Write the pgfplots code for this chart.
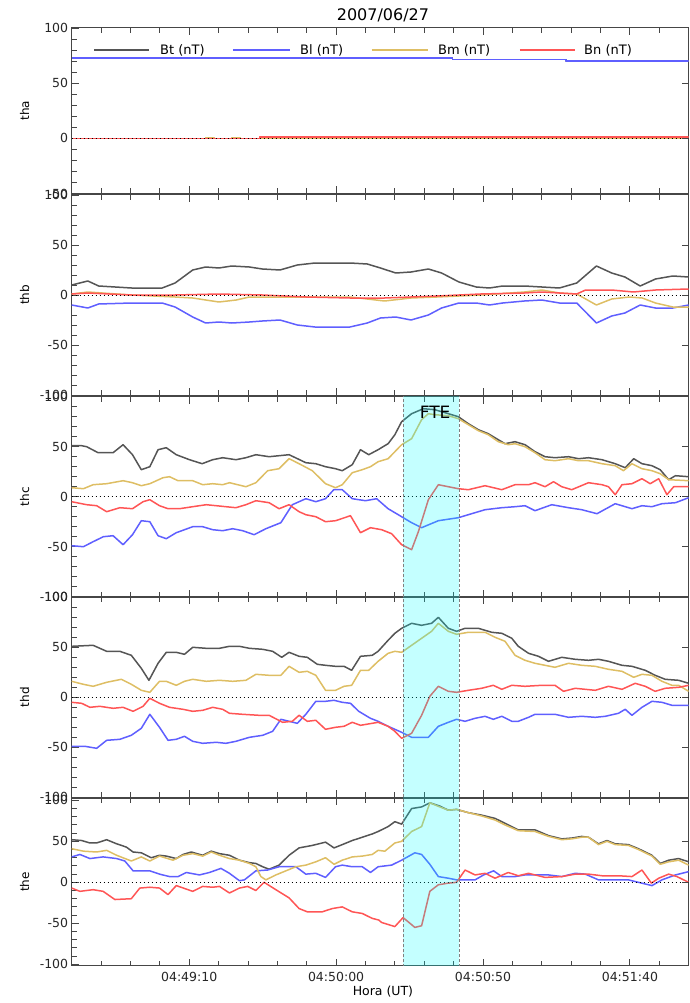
\documentclass[border=0pt]{standalone}
\usepackage{fontspec}
\setmainfont{DejaVu Sans}
\usepackage{pgfplots}
\pgfplotsset{compat=1.18}
\definecolor{cBt}{RGB}{85,85,85}
\definecolor{cBl}{RGB}{95,95,255}
\definecolor{cBm}{RGB}{222,190,100}
\definecolor{cBn}{RGB}{255,85,85}
\definecolor{frm}{RGB}{70,70,70}
\definecolor{band}{RGB}{0,255,255}
\tikzset{rt/.style={frm, line width=0.9pt}}
\pgfplotsset{
  panel/.style={
    scale only axis, width=617pt,
    xmin=30, xmax=240,
    xtick={70,120,170,220}, minor xtick={30,40,...,240},
    xticklabels={},
    ytick={-100,-50,0,50,100},
    minor ytick={-100,-90,...,100},
    tick align=inside, xtick pos=both, ytick pos=left,
    major tick length=7pt, minor tick length=5pt,
    every tick/.style={frm, line width=0.9pt},
    axis line style={frm, line width=1pt},
    tick label style={font=\fontsize{12.5}{14}\selectfont, text=black!85},
    /pgf/number format/assume math mode=true,
    every axis y label/.style={at={(axis description cs:-0.0762,0.5)}, rotate=90, anchor=center, font=\fontsize{12}{14}\selectfont},
    every axis plot/.append style={line width=1.5pt, line join=round},
    clip=true,
  },
  zero/.style={black, line width=1pt, dash pattern=on 1pt off 3pt},
  fte/.style={draw=none, fill=band, fill opacity=0.23},
  ftel/.style={gray, line width=0.8pt, dash pattern=on 3pt off 2pt},
}
\begin{document}
\begin{tikzpicture}
\path[use as bounding box] (0,0) rectangle (689pt,-1003pt);

% ---------------- panel 1: tha
\begin{axis}[panel, at={(71.67pt,-28pt)}, anchor=north west, height=165.5pt,
  ymin=-50, ymax=100, ytick={-50,0,50,100}, minor ytick={-50,-40,...,100},
  ylabel={tha},
  title={2007/06/27},
  title style={font=\fontsize{16}{18}\selectfont, at={(axis description cs:0.5045,1)}, anchor=center, yshift=7pt}]
\addplot[cBt] coordinates {(30,72.7) (159.6,72.7) (159.6,71.3) (198.2,71.3) (198.2,70.3) (240,70.3)};
\addplot[cBl] coordinates {(30,72.7) (159.6,72.7) (159.6,71.3) (198.2,71.3) (198.2,70.3) (240,70.3)};
\addplot[cBm] coordinates {(30,0) (75.6,0) (75.6,0.6) (78.6,0.6) (78.6,0) (84.5,0) (84.5,0.6) (87.5,0.6) (87.5,0) (240,0)};
\addplot[cBn] coordinates {(30,0) (94,0) (94,1.2) (240,1.2)};
\addplot[zero] coordinates {(30,0) (240,0)};
\draw[rt] (axis cs:240,50) -- ([xshift=-7pt]axis cs:240,50);
\draw[rt] (axis cs:240,0) -- ([xshift=-7pt]axis cs:240,0);
% legend
\draw[cBt, line width=1.5pt] (rel axis cs:0.0362,0.867) -- (rel axis cs:0.1253,0.867);
\node[anchor=west, font=\fontsize{13}{15}\selectfont, inner sep=0pt] at (rel axis cs:0.1431,0.867) {Bt (nT)};
\draw[cBl, line width=1.5pt] (rel axis cs:0.2614,0.867) -- (rel axis cs:0.3538,0.867);
\node[anchor=west, font=\fontsize{13}{15}\selectfont, inner sep=0pt] at (rel axis cs:0.370,0.867) {Bl (nT)};
\draw[cBm, line width=1.5pt] (rel axis cs:0.4863,0.867) -- (rel axis cs:0.578,0.867);
\node[anchor=west, font=\fontsize{13}{15}\selectfont, inner sep=0pt] at (rel axis cs:0.5937,0.867) {Bm (nT)};
\draw[cBn, line width=1.5pt] (rel axis cs:0.7266,0.867) -- (rel axis cs:0.8155,0.867);
\node[anchor=west, font=\fontsize{13}{15}\selectfont, inner sep=0pt] at (rel axis cs:0.8304,0.867) {Bn (nT)};
\end{axis}

% ---------------- panel 2: thb
\begin{axis}[panel, at={(71.67pt,-195pt)}, anchor=north west, height=200pt,
  ymin=-100, ymax=100, ylabel={thb}]
\addplot[cBt] coordinates {(30,10) (35.5,14) (39.2,9) (50.4,7) (60.8,7) (65.2,12) (71.2,25) (75.6,28) (80.1,27) (84.5,29) (90.5,28) (94.9,26) (100.9,25) (106.8,30) (112.8,32) (118.7,32) (124.7,32) (130.6,31) (135.1,27) (140.3,22) (145.5,23) (151.4,26) (155.9,22) (161.8,13) (167.7,8) (172.2,7) (176.7,9) (184.1,9) (190,8) (196,7) (201.9,12) (208.6,29) (213.8,22) (218.3,18) (223.5,9) (228.7,16) (234.6,19) (240,18)};
\addplot[cBl] coordinates {(30,-10) (35.5,-13) (39.2,-9) (50.4,-8) (60.8,-8) (65.2,-12) (71.2,-22) (75.6,-28) (80.1,-27) (84.5,-28) (90.5,-27) (94.9,-26) (100.9,-25) (106.8,-30) (112.8,-32) (118.7,-32) (124.7,-32) (130.6,-28) (135.1,-23) (140.3,-22) (145.5,-25) (151.4,-20) (155.9,-13) (161.8,-8) (167.7,-8) (172.2,-10) (176.7,-8) (184.1,-6) (190,-5) (196,-8) (201.9,-8) (208.6,-28) (213.8,-21) (218.3,-18) (223.5,-10) (228.7,-13) (234.6,-13) (240,-10)};
\addplot[cBm] coordinates {(30,1) (35.5,3) (50.4,0) (65.2,-2) (71.2,-3) (80.1,-7) (86,-5) (90.5,-2) (109.8,-2) (124.7,-2) (136.5,-6) (145.5,-3) (154.4,-2) (169.2,0) (184.1,3) (190,5) (196,2) (201.9,1) (208.6,-10) (213.8,-4) (219.8,-2) (224.2,-3) (228.7,-8) (234.6,-12) (240,-12)};
\addplot[cBn] coordinates {(30,1) (35.5,2) (50.4,0) (65.2,0) (80.1,1) (94.9,0) (109.8,-2) (124.7,-3) (136.5,-3) (154.4,-1) (169.2,1) (184.1,2) (190,3) (201.9,1) (204.9,5) (213.8,5) (221.2,3) (228.7,5) (240,6)};
\addplot[zero] coordinates {(30,0) (240,0)};
\draw[rt] (axis cs:240,50) -- ([xshift=-7pt]axis cs:240,50);
\draw[rt] (axis cs:240,0) -- ([xshift=-7pt]axis cs:240,0);
\draw[rt] (axis cs:240,-50) -- ([xshift=-7pt]axis cs:240,-50);
\end{axis}

% ---------------- panel 3: thc
\begin{axis}[panel, at={(71.67pt,-396.7pt)}, anchor=north west, height=200pt,
  ymin=-100, ymax=100, ylabel={thc}]
\addplot[cBt] coordinates {(30,51) (33.4,51) (35.1,50) (39,44) (44.1,44) (47.5,52) (50.7,42) (53.7,27) (56.6,30) (59.4,47) (62.2,49) (65.6,42) (70.1,37) (74.4,33) (78,37) (81.4,39) (85.9,37) (89.3,39) (92.7,42) (97.2,40) (100.6,41) (104,42) (109.7,34) (113.1,33) (116.4,30) (119.8,28) (122.1,26) (125.5,32) (128.3,47) (131.1,42) (134.3,47) (137.7,53) (140,62) (142.3,75) (145.7,83) (149.7,88) (153.6,87) (158.2,83) (161.6,80) (165,73) (168.4,67) (171.8,63) (175.2,57) (177.5,53) (180.9,55) (184.3,52) (187.7,45) (191.1,40) (194.5,39) (199.1,40) (202.5,38) (205.9,39) (210.5,37) (215,33) (218.4,29) (221.3,38) (224.1,33) (227.5,31) (230.3,27) (233.2,17) (235.5,21) (240,20)};
\addplot[cBl] coordinates {(30,-49) (34,-50) (37.3,-45) (40.8,-40) (44.1,-39) (47.5,-48) (50.7,-38) (53.7,-24) (56.6,-25) (59.4,-39) (62.2,-42) (65.6,-36) (71.2,-30) (74.6,-30) (78,-33) (81.4,-34) (84.8,-32) (88.2,-34) (92.1,-38) (96.1,-32) (101.2,-26) (105.1,-8) (109.7,-2) (113.1,-5) (116.4,-2) (119.2,7) (122.1,7) (125.5,-2) (130,-4) (133.8,-2) (137.7,-12) (142.3,-20) (145.7,-26) (149.1,-31) (154.8,-24) (161.6,-21) (165,-18) (170.7,-13) (176.4,-11) (180.9,-10) (184.3,-9) (187.7,-14) (193.4,-8) (199.1,-11) (203.6,-13) (208.8,-17) (215,-7) (220.7,-12) (224.1,-9) (227.5,-10) (230.9,-7) (235.5,-6) (240,-1)};
\addplot[cBm] coordinates {(30,9) (34,8) (37.3,12) (41.9,13) (47.5,16) (50.7,14) (53.7,11) (56.6,13) (61.1,19) (63.3,20) (66.2,16) (71.2,16) (74.6,12) (78,13) (81.4,12) (83.7,14) (89.3,10) (92.7,14) (96.7,26) (100.6,28) (104,38) (107.4,33) (111.9,26) (116.4,13) (119.8,9) (122.1,12) (125.5,24) (128.9,27) (131.7,30) (134.3,35) (137.7,38) (142.3,52) (145.7,58) (149.1,77) (151.4,83) (153.6,82) (158.2,81) (161.6,78) (165,72) (168.4,66) (171.8,62) (175.2,55) (178.6,52) (180.9,53) (184.3,50) (187.7,44) (191.1,37) (194.5,36) (199.1,38) (202.5,36) (205.9,36) (210.5,33) (215,31) (217.8,26) (220.7,33) (224.1,28) (227.5,26) (230.3,23) (233.2,17) (240,16)};
\addplot[cBn] coordinates {(30,-5) (35.1,-8) (38.5,-9) (41.9,-15) (46.4,-11) (50.7,-12) (54.3,-5) (56.6,-3) (59.9,-9) (62.8,-12) (66.7,-12) (71.2,-10) (75.8,-8) (79.2,-9) (82.5,-10) (85.9,-11) (89.3,-8) (92.7,-4) (97.2,-6) (100.6,-12) (104,-8) (107.4,-15) (109.7,-18) (113.1,-20) (116.4,-25) (119.8,-24) (124.9,-19) (128.3,-36) (131.7,-31) (135.5,-33) (138.9,-37) (142.3,-48) (145.7,-53) (148,-35) (151.4,-3) (154.8,12) (158.2,10) (161.6,8) (165,7) (170.7,11) (176.4,7) (180.9,12) (185.5,12) (187.7,14) (191.1,10) (194,15) (196.8,10) (200.2,7) (205.9,14) (210.5,12) (212.7,10) (215,2) (217.3,12) (220.7,13) (224.1,18) (226.9,13) (229.8,18) (232.6,2) (234.9,10) (240,10)};
\addplot[zero] coordinates {(30,0) (240,0)};
\addplot[fte] coordinates {(142.8,-110) (161.8,-110) (161.8,110) (142.8,110)} -- cycle;
\addplot[ftel] coordinates {(142.8,-110) (142.8,110)};
\addplot[ftel] coordinates {(161.8,-110) (161.8,110)};
\node[font=\fontsize{17}{19}\selectfont, text=black] at (axis cs:153.7,84.5) {FTE};
\draw[rt] (axis cs:240,50) -- ([xshift=-7pt]axis cs:240,50);
\draw[rt] (axis cs:240,0) -- ([xshift=-7pt]axis cs:240,0);
\draw[rt] (axis cs:240,-50) -- ([xshift=-7pt]axis cs:240,-50);
\end{axis}

% ---------------- panel 4: thd
\begin{axis}[panel, at={(71.67pt,-597.3pt)}, anchor=north west, height=200pt,
  ymin=-100, ymax=100, ylabel={thd}]
\addplot[cBt] coordinates {(30,51) (37.3,52) (41.9,46) (46.4,46) (50.3,42) (53.7,29) (56.3,17) (59.4,34) (62.2,45) (65.6,45) (68.4,43) (71.2,50) (75.8,49) (80.3,49) (83.7,51) (87.1,51) (90.5,49) (95,48) (98.4,46) (101.5,40) (104,45) (107.4,41) (110.2,40) (113.6,33) (116.4,32) (119.8,31) (122.7,31) (125.3,27) (128.3,41) (132.3,42) (134.3,46) (137.7,57) (140,64) (142.3,69) (145.7,74) (149.1,72) (152.5,74) (154.8,80) (158.2,69) (161,66) (163.9,69) (168.4,69) (173,65) (176.4,64) (179.8,59) (182,51) (185.5,44) (188.9,41) (192.3,36) (196.8,40) (201.4,38) (205.9,37) (209.3,38) (212.7,36) (217.3,32) (220.7,31) (225.2,27) (228.6,22) (232,18) (236.6,17) (240,14)};
\addplot[cBl] coordinates {(30,-49) (34.5,-49) (38.5,-51) (41.9,-43) (46.4,-42) (50.3,-38) (53.7,-31) (56.6,-17) (59.9,-30) (62.8,-43) (65.6,-42) (68.4,-39) (71.2,-44) (74.6,-46) (79.2,-45) (82.5,-46) (85.9,-44) (90.5,-40) (95,-38) (98.4,-34) (101.2,-22) (104,-24) (106.8,-26) (109.7,-17) (113.1,-4) (116.4,-4) (119.3,-3) (122.1,-5) (124.9,-6) (127.7,-14) (131.7,-21) (134.3,-24) (137.7,-29) (142.3,-35) (145.7,-40) (151.4,-40) (154.8,-29) (158.2,-25) (161,-22) (163.9,-24) (167.3,-21) (170.7,-19) (173.5,-22) (176.4,-19) (179.8,-24) (182,-24) (185.5,-20) (187.7,-17) (194.5,-17) (199.1,-20) (203.6,-19) (208.2,-20) (211.6,-19) (216.1,-16) (218.4,-12) (220.7,-18) (224.1,-10) (227.5,-4) (230.9,-5) (234.3,-8) (240,-8)};
\addplot[cBm] coordinates {(30,16) (34,13) (37.3,11) (41.9,15) (46.9,18) (50.3,13) (53.7,7) (56.6,5) (59.9,16) (62.2,16) (65.6,12) (68.4,16) (71.2,18) (75.8,16) (80.3,17) (84.8,16) (89.3,17) (92.7,23) (97.2,22) (101.2,22) (104,31) (107.4,25) (110.2,26) (113.1,22) (116.4,7) (119.8,7) (122.7,11) (125.3,12) (128.3,27) (131.1,27) (134.3,36) (137.7,44) (140,46) (142.3,45) (145.7,52) (149.1,59) (152.5,66) (154.8,74) (158.2,66) (161,63) (165,65) (170.7,65) (174.1,60) (177.5,56) (180.9,42) (184.3,37) (187.7,34) (191.1,32) (194.5,30) (199.1,34) (203.6,32) (208.2,31) (212.7,28) (217.3,26) (221.3,20) (224.1,23) (227.5,22) (230.9,16) (234.3,12) (236.6,12) (240,6)};
\addplot[cBn] coordinates {(30,-5) (33.4,-6) (36.2,-10) (39.6,-9) (44.1,-11) (47.5,-10) (50.9,-14) (54.3,-9) (56.6,-1) (59.9,-6) (63.3,-10) (67.9,-12) (71.2,-14) (74.6,-13) (78,-10) (81.4,-12) (83.7,-16) (88.2,-17) (93.8,-18) (97.2,-18) (101.8,-25) (105.1,-24) (107.4,-18) (110.2,-24) (113.1,-23) (116.4,-32) (119.8,-30) (122.7,-29) (125.5,-25) (128.3,-28) (132.3,-26) (134.3,-25) (137.7,-29) (140,-34) (142.3,-41) (145.7,-36) (149.1,-18) (151.9,1) (154.8,11) (158.2,6) (161,5) (165,7) (169.5,9) (173.5,12) (176.4,8) (179.8,12) (184.3,11) (190,12) (194.5,12) (197.4,6) (201.4,9) (208.2,7) (212.7,11) (217.3,8) (221.8,14) (225.2,11) (228.6,6) (232,9) (236.6,10) (240,12)};
\addplot[zero] coordinates {(30,0) (240,0)};
\addplot[fte] coordinates {(142.8,-110) (161.8,-110) (161.8,110) (142.8,110)} -- cycle;
\addplot[ftel] coordinates {(142.8,-110) (142.8,110)};
\addplot[ftel] coordinates {(161.8,-110) (161.8,110)};
\draw[rt] (axis cs:240,50) -- ([xshift=-7pt]axis cs:240,50);
\draw[rt] (axis cs:240,0) -- ([xshift=-7pt]axis cs:240,0);
\draw[rt] (axis cs:240,-50) -- ([xshift=-7pt]axis cs:240,-50);
\end{axis}

% ---------------- panel 5: the
\begin{axis}[panel, at={(71.67pt,-798.3pt)}, anchor=north west, height=167.2pt,
  ymin=-101.5, ymax=102.5, ylabel={the},
  xticklabels={04:49:10,04:50:00,04:50:50,04:51:40},
  xticklabel style={yshift=-3pt},
  xlabel={Hora (UT)},
  xlabel style={at={(axis description cs:0.5045,0)}, anchor=center, yshift=-26pt, font=\fontsize{12.5}{14}\selectfont}]
\addplot[cBt] coordinates {(30,52) (33.4,51) (36.2,48) (38.5,48) (41.9,52) (45.3,47) (48.6,43) (50.9,37) (53.7,36) (57.1,30) (59.9,33) (62.2,32) (65.6,29) (67.9,34) (70.7,37) (74.6,33) (77.5,38) (80.3,35) (83.7,33) (87.1,27) (90.5,24) (92.7,23) (95,19) (97.2,16) (100.6,21) (104,33) (107.4,42) (111.9,45) (116.4,49) (119.3,42) (122.1,46) (125.5,51) (128.9,55) (132.3,59) (134.3,62) (137.7,68) (140,74) (142.3,71) (145.7,90) (149.1,92) (151.9,97) (155.3,93) (158.2,88) (161,89) (165,85) (169.5,82) (174.1,78) (177.5,72) (182,64) (187.7,64) (192.3,57) (196.8,53) (200.2,54) (203.6,56) (205.9,55) (209.3,47) (212.2,51) (215,47) (219.5,46) (222.9,41) (227.5,33) (230.3,23) (233.2,27) (236.6,29) (240,25)};
\addplot[cBl] coordinates {(30,31) (32.8,34) (36.2,29) (40.7,31) (45.3,29) (48.1,26) (50.9,14) (56.6,14) (59.9,10) (63.3,7) (66.2,7) (69,12) (73.5,9) (76.9,12) (80.8,17) (83.7,11) (87.1,2) (88.8,3) (92.7,14) (96.7,15) (100.6,19) (106.3,19) (109.7,10) (113.1,11) (116.4,6) (119.8,19) (122.1,21) (125.5,19) (128.9,19) (131.7,12) (134.3,19) (138.9,21) (142.3,27) (146.8,36) (149.1,34) (151.9,22) (154.8,7) (158.2,5) (161,3) (163.9,3) (167.3,3) (170.2,9) (173.6,14) (176.4,7) (180.9,7) (184.3,9) (187.7,9) (192.3,9) (196.8,7) (201.4,11) (204.8,10) (209.3,3) (213.9,3) (219.5,3) (222.9,0) (227.5,-4) (230.9,3) (235.5,9) (240,13)};
\addplot[cBm] coordinates {(30,41) (34,38) (38.5,37) (41.9,39) (45.3,33) (50.3,26) (53.7,31) (56.6,26) (59.9,32) (64.5,27) (67.9,33) (71.2,35) (74.6,32) (77.5,37) (80.3,33) (83.7,29) (87.1,27) (90.5,23) (92.7,19) (94.4,7) (96.1,3) (99.5,9) (102.9,14) (106.3,19) (109.7,21) (113.1,25) (116.4,30) (119.3,22) (122.1,27) (125.5,31) (128.9,32) (132.3,34) (134.3,39) (136.6,38) (140,48) (142.3,50) (145.7,62) (149.1,68) (151.9,97) (155.3,92) (158.2,88) (161,89) (165,85) (169.5,81) (174.1,76) (177.5,70) (182,63) (187.7,62) (192.3,56) (196.8,52) (200.2,53) (203.6,55) (205.9,55) (209.3,46) (212.2,50) (215,46) (219.5,45) (222.9,40) (227.5,32) (230.3,22) (233.2,25) (236.6,27) (240,21)};
\addplot[cBn] coordinates {(30,-7) (32.8,-11) (37.3,-9) (40.7,-11) (44.7,-21) (50.3,-20) (53.2,-7) (56.6,-6) (59.9,-7) (62.8,-15) (65.6,-4) (71.2,-11) (74.6,-5) (78,-6) (80.3,-5) (83.7,-13) (87.1,-7) (89.9,-5) (92.7,-10) (95.5,0) (99.5,-9) (104,-19) (107.4,-32) (110.2,-36) (115.3,-36) (118.7,-32) (122.1,-30) (125.5,-36) (128.9,-38) (132.3,-44) (134.5,-46) (135.5,-49) (140,-54) (142.8,-43) (146.8,-55) (149.1,-53) (151.9,-11) (154.8,-3) (158.2,-1) (161,0) (163.9,15) (167.3,9) (170.7,11) (174.1,5) (178.6,12) (182,8) (185.5,11) (191.1,6) (196.8,7) (201.4,10) (205.9,10) (210.5,8) (216.1,8) (220.7,7) (224.1,15) (227.3,-1) (229.8,5) (233.2,10) (236,7) (240,0)};
\addplot[zero] coordinates {(30,0) (240,0)};
\addplot[fte] coordinates {(142.8,-110) (161.8,-110) (161.8,110) (142.8,110)} -- cycle;
\addplot[ftel] coordinates {(142.8,-110) (142.8,110)};
\addplot[ftel] coordinates {(161.8,-110) (161.8,110)};
\draw[rt] (axis cs:240,50) -- ([xshift=-7pt]axis cs:240,50);
\draw[rt] (axis cs:240,0) -- ([xshift=-7pt]axis cs:240,0);
\draw[rt] (axis cs:240,-50) -- ([xshift=-7pt]axis cs:240,-50);
\end{axis}
\end{tikzpicture}
\end{document}
